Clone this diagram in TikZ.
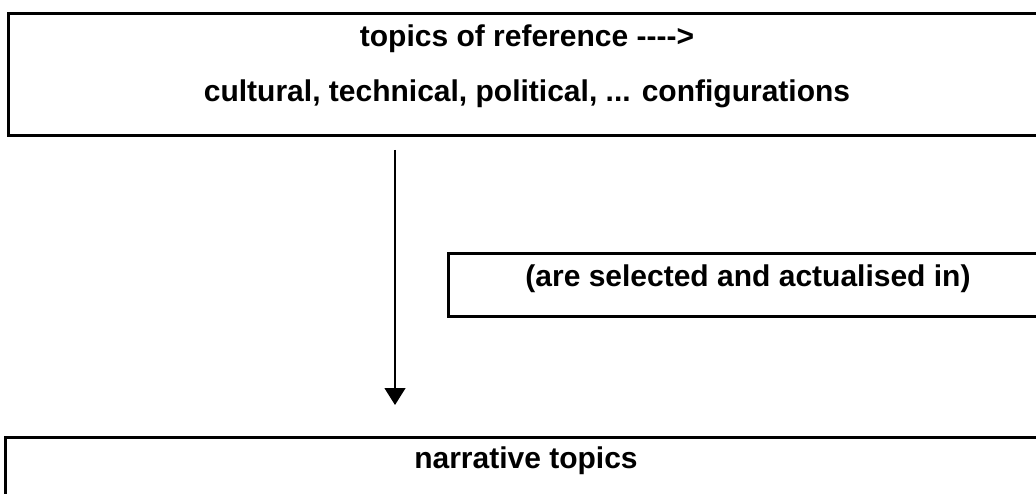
\documentclass[tikz,border=0pt]{standalone}
\usepackage{fontspec}
\setmainfont{Liberation Sans}
\usetikzlibrary{arrows.meta}
\begin{document}
\begin{tikzpicture}[x=1pt,y=-1pt,
  frame/.style={draw=black,line width=3pt,inner sep=0pt,outer sep=0pt,anchor=north west},
  lbl/.style={font=\fontsize{30}{36}\selectfont\bfseries,inner sep=0pt,anchor=base},
  flow/.style={line width=1.3pt,-{Triangle[width=21pt,length=17pt]}}]
\useasboundingbox (0,0) rectangle (1036,494);
\clip (0,0) rectangle (1036,494);
\node[frame,minimum width=1100pt,minimum height=122pt] (topbox) at (8.5,13.5) {};
\node[frame,minimum width=700pt,minimum height=63pt] (midbox) at (448,254) {};
\node[frame,minimum width=1100pt,minimum height=100pt] (botbox) at (5,437) {};
\node[lbl] (t1) at (527,47) {topics of reference -{}-{}-{}->};
\node[lbl] (t2) at (527,102) {cultural, technical, political, ... configurations};
\node[lbl] (t3) at (748,287) {(are selected and actualised in)};
\node[lbl] (t4) at (526,468) {narrative topics};
\coordinate (a1) at (395,150);
\coordinate (a2) at (395,405);
\draw[flow] (a1) -- (a2);
\end{tikzpicture}
\end{document}
